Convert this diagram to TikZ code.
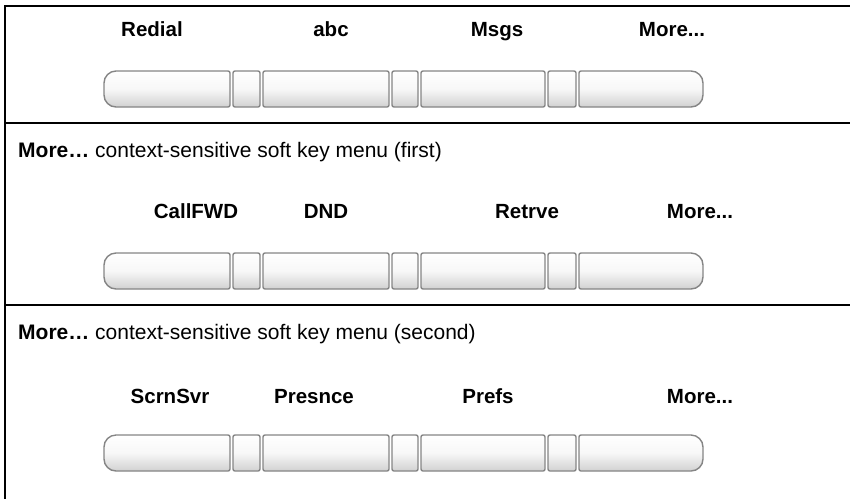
\documentclass[tikz,border=0pt]{standalone}
\usepackage{fontspec}
\setmainfont{Liberation Sans}
\begin{document}
\begin{tikzpicture}[x=1pt,y=-1pt,
  rule/.style={line width=1.4pt,black},
  keyshape/.style={draw=black!48,line width=1.4pt,top color=white,bottom color=black!18,middle color=white!97!black},
  lbl/.style={font=\fontsize{20.5}{22}\selectfont\bfseries,anchor=base,inner sep=0pt},
  hdr/.style={font=\fontsize{21}{23}\selectfont,anchor=base west,inner sep=0pt}]
\useasboundingbox (0,0) rectangle (850,499);
% table rules
\coordinate (tl) at (5,6);
\coordinate (tr) at (850,6);
\coordinate (bl) at (5,499);
\draw[rule] (tr) -- (tl) -- (bl);
\coordinate (l1a) at (5,123); \coordinate (l1b) at (850,123);
\coordinate (l2a) at (5,305); \coordinate (l2b) at (850,305);
\draw[rule] (l1a) -- (l1b);
\draw[rule] (l2a) -- (l2b);
% key bars
\foreach \yo in {0,182,364}{
  \begin{scope}[yshift=-\yo pt]
  \draw[keyshape] (230,71) [rounded corners=12pt] -- (104,71) -- (104,107) [rounded corners=2pt] -- (230,107) -- cycle;
  \draw[keyshape,rounded corners=2pt] (233,71) rectangle (260,107);
  \draw[keyshape,rounded corners=2pt] (263,71) rectangle (389,107);
  \draw[keyshape,rounded corners=2pt] (392,71) rectangle (418,107);
  \draw[keyshape,rounded corners=2pt] (421,71) rectangle (545,107);
  \draw[keyshape,rounded corners=2pt] (548,71) rectangle (576,107);
  \draw[keyshape] (579,107) [rounded corners=12pt] -- (703,107) -- (703,71) [rounded corners=2pt] -- (579,71) -- cycle;
  \end{scope}
}
% row 1 labels
\node[lbl] (r1a) at (152,36) {Redial};
\node[lbl] (r1b) at (331,36) {abc};
\node[lbl] (r1c) at (497,36) {Msgs};
\node[lbl] (r1d) at (672,36) {More...};
% header 2
\node[hdr] (h2) at (18,157) {\textbf{More…} context-sensitive soft key menu (first)};
\node[lbl] (r2a) at (196,218) {CallFWD};
\node[lbl] (r2b) at (326,218) {DND};
\node[lbl] (r2c) at (527,218) {Retrve};
\node[lbl] (r2d) at (700,218) {More...};
% header 3
\node[hdr] (h3) at (18,339) {\textbf{More…} context-sensitive soft key menu (second)};
\node[lbl] (r3a) at (170,403) {ScrnSvr};
\node[lbl] (r3b) at (314,403) {Presnce};
\node[lbl] (r3c) at (488,403) {Prefs};
\node[lbl] (r3d) at (700,403) {More...};
\end{tikzpicture}
\end{document}
